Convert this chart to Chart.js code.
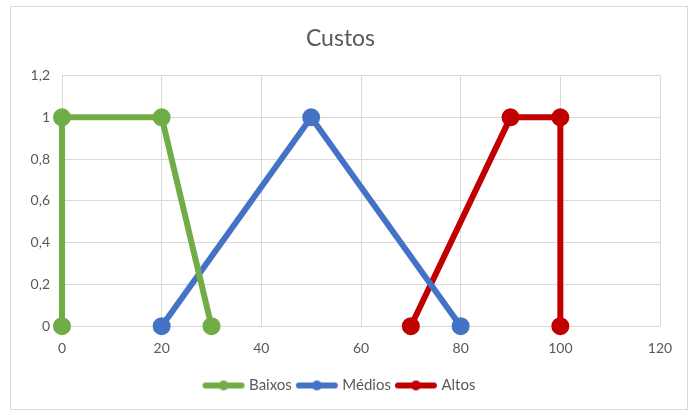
<!DOCTYPE html>
<html>
<head>
<meta charset="utf-8">
<script src="https://cdn.jsdelivr.net/npm/chart.js@4/dist/chart.umd.min.js"></script>
<style>
  body { margin: 0; background: #fff; }
  #wrap { position: absolute; left: 10px; top: 6px; width: 676px; height: 402px; border: 1px solid #d9d9d9; }
</style>
</head>
<body>
<div id="wrap"><canvas id="chart" width="676" height="402"></canvas></div>
<script>
const baixosX = [0, 0, 20, 30];
const baixosY = [0, 1, 1, 0];
const mediosX = [20, 50, 80];
const mediosY = [0, 1, 0];
const altosX = [70, 90, 100, 100];
const altosY = [0, 1, 1, 0];
const seriesNames = ['Baixos', 'Médios', 'Altos'];
const seriesColors = ['#70AD47', '#4472C4', '#C00000'];

function toPoints(xs, ys) {
    return xs.map((x, i) => ({ x: x, y: ys[i] }));
}

// legend marker: short thick line with a dot in the middle, like Excel
function legendIcon(color) {
    const c = document.createElement('canvas');
    c.width = 44; c.height = 12;
    const g = c.getContext('2d');
    g.strokeStyle = color;
    g.lineWidth = 6;
    g.lineCap = 'round';
    g.beginPath(); g.moveTo(4, 6); g.lineTo(40, 6); g.stroke();
    g.fillStyle = color;
    g.beginPath(); g.arc(22, 6, 5, 0, Math.PI * 2); g.fill();
    return c;
}

const allX = [baixosX, mediosX, altosX];
const allY = [baixosY, mediosY, altosY];

const datasets = seriesNames.map((name, i) => ({
    label: name,
    data: toPoints(allX[i], allY[i]),
    borderColor: seriesColors[i],
    backgroundColor: seriesColors[i],
    borderWidth: 6,
    pointRadius: 6,
    pointHoverRadius: 6,
    pointStyle: 'circle',
    showLine: true,
    tension: 0,
    clip: false
}));

const icons = seriesColors.map(legendIcon);

new Chart(document.getElementById('chart'), {
    type: 'scatter',
    data: { datasets: datasets },
    options: {
        responsive: false,
        animation: false,
        layout: { padding: { left: 10, right: 27, top: 14, bottom: 6 } },
        scales: {
            x: {
                min: 0, max: 120,
                ticks: { stepSize: 20, color: '#595959', font: { family: 'Lato', size: 14 }, padding: 14 },
                grid: { color: '#d9d9d9', drawTicks: false },
                border: { display: false }
            },
            y: {
                min: 0, max: 1.2,
                afterFit: s => { s.width = 41; },
                ticks: {
                    stepSize: 0.2, color: '#595959', font: { family: 'Lato', size: 14 }, padding: 12,
                    callback: v => String(Math.round(v * 10) / 10).replace('.', ',')
                },
                grid: { color: '#d9d9d9', drawTicks: false },
                border: { display: false }
            }
        },
        plugins: {
            title: {
                display: true, text: 'Custos', color: '#595959',
                font: { family: 'Lato', size: 23, weight: 'normal' },
                padding: { top: 4, bottom: 23 }
            },
            legend: {
                position: 'bottom',
                labels: {
                    usePointStyle: true,
                    pointStyleWidth: 36,
                    color: '#595959',
                    font: { family: 'Lato', size: 15 },
                    padding: 7,
                    generateLabels: chart => chart.data.datasets.map((d, i) => ({
                        text: d.label,
                        pointStyle: icons[i],
                        fillStyle: d.borderColor,
                        strokeStyle: d.borderColor,
                        lineWidth: 0,
                        fontColor: '#595959',
                        datasetIndex: i,
                        hidden: false
                    }))
                }
            },
            tooltip: { enabled: false }
        }
    }
});
</script>
</body>
</html>
